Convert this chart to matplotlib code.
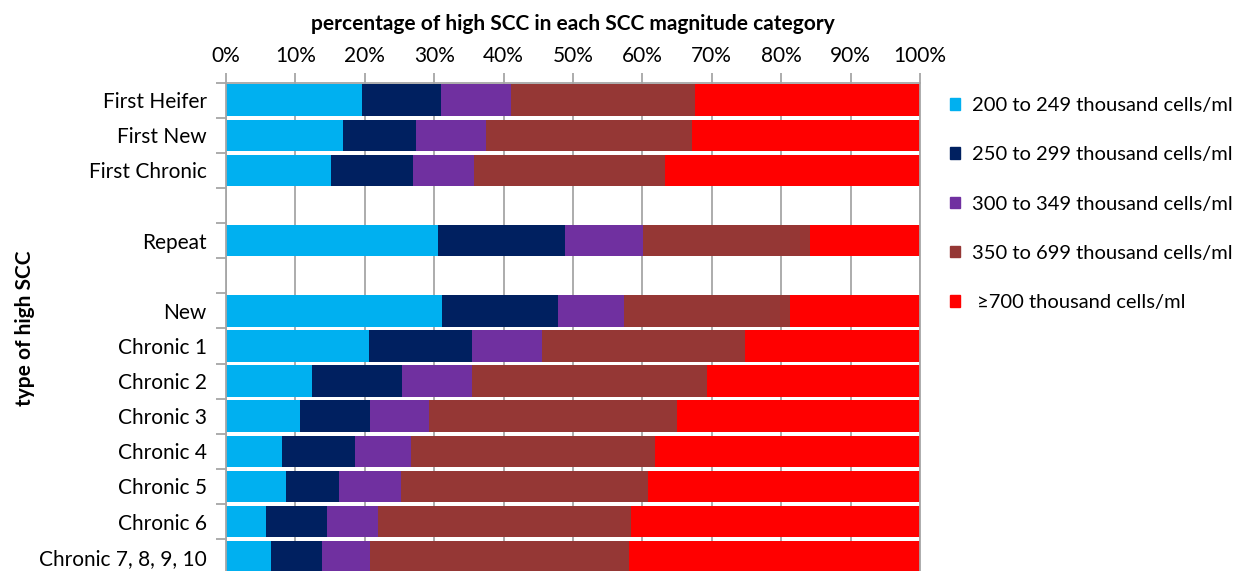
import matplotlib.pyplot as plt
import numpy as np
from matplotlib.patches import Patch

plt.rcParams['font.family'] = ['Lato', 'DejaVu Sans']

categories = ['First Heifer', 'First New', 'First Chronic', '', 'Repeat', '',
              'New', 'Chronic 1', 'Chronic 2', 'Chronic 3', 'Chronic 4',
              'Chronic 5', 'Chronic 6', 'Chronic 7, 8, 9, 10']

# percentages per SCC magnitude class (blank rows are spacers)
scc_200_249 = [19.6, 16.9, 15.1, 0, 30.5, 0, 31.1, 20.6, 12.4, 10.7, 8.0, 8.7, 5.7, 6.5]
scc_250_299 = [11.4, 10.5, 11.9, 0, 18.4, 0, 16.7, 14.9, 13.0, 10.1, 10.6, 7.6, 8.9, 7.4]
scc_300_349 = [10.0, 10.1, 8.8, 0, 11.2, 0, 9.6, 10.1, 10.1, 8.4, 8.1, 8.9, 7.3, 6.9]
scc_350_699 = [26.6, 29.7, 27.5, 0, 24.0, 0, 23.8, 29.2, 33.8, 35.8, 35.1, 35.6, 36.5, 37.3]
scc_700_up = [32.4, 32.8, 36.7, 0, 15.9, 0, 18.8, 25.2, 30.7, 35.0, 38.2, 39.2, 41.6, 41.9]

series_labels = ['200 to 249 thousand cells/ml', '250 to 299 thousand cells/ml',
                 '300 to 349 thousand cells/ml', '350 to 699 thousand cells/ml',
                 ' \u2265700 thousand cells/ml']
colours = ['#00B0F0', '#002060', '#7030A0', '#953735', '#FF0000']
grey = '#A6A6A6'
fs = 15

fig = plt.figure(figsize=(12.43, 5.71), dpi=100)
ax = fig.add_axes([226 / 1243, -3.2 / 571, 694 / 1243, 491.5 / 571])

y = np.arange(len(categories))
left = np.zeros(len(categories))
for vals, col in zip([scc_200_249, scc_250_299, scc_300_349, scc_350_699, scc_700_up], colours):
    vals = np.array(vals, dtype=float)
    ax.barh(y, vals, left=left, height=0.9, color=col, linewidth=0)
    left += vals

ax.set_xlim(0, 100)
ax.set_ylim(len(categories) - 0.5, -0.5)
ax.set_axisbelow(True)
ax.xaxis.grid(True, color=grey, linewidth=1.3)

ax.xaxis.tick_top()
ax.set_xticks(range(0, 101, 10))
ax.set_xticklabels([f'{v}%' for v in range(0, 101, 10)], fontsize=fs)
ax.tick_params(axis='x', length=7, width=1.3, color=grey, pad=5)
ax.xaxis.set_label_position('top')
ax.set_xlabel('percentage of high SCC in each SCC magnitude category',
              fontsize=fs, fontweight='bold', labelpad=11.5)

ax.set_yticks(y)
ax.set_yticklabels(categories, fontsize=fs)
ax.set_yticks(np.arange(-0.5, len(categories), 1), minor=True)
ax.tick_params(axis='y', which='major', length=0, pad=14)
ax.tick_params(axis='y', which='minor', length=7, width=1.3, color=grey)
ax.set_ylabel('type of high SCC', fontsize=fs, fontweight='bold', labelpad=3)

for side in ['top', 'left', 'right']:
    ax.spines[side].set_color(grey)
    ax.spines[side].set_linewidth(1.3)
ax.spines['bottom'].set_visible(False)

handles = [Patch(color=c) for c in colours]
fig.legend(handles, series_labels, loc='upper left', bbox_to_anchor=(932 / 1243, 1 - 79 / 571),
           frameon=False, fontsize=14.5, handlelength=0.5, handleheight=0.5,
           handletextpad=0.6, labelspacing=1.6)

fig.savefig('out.png', dpi=100)
